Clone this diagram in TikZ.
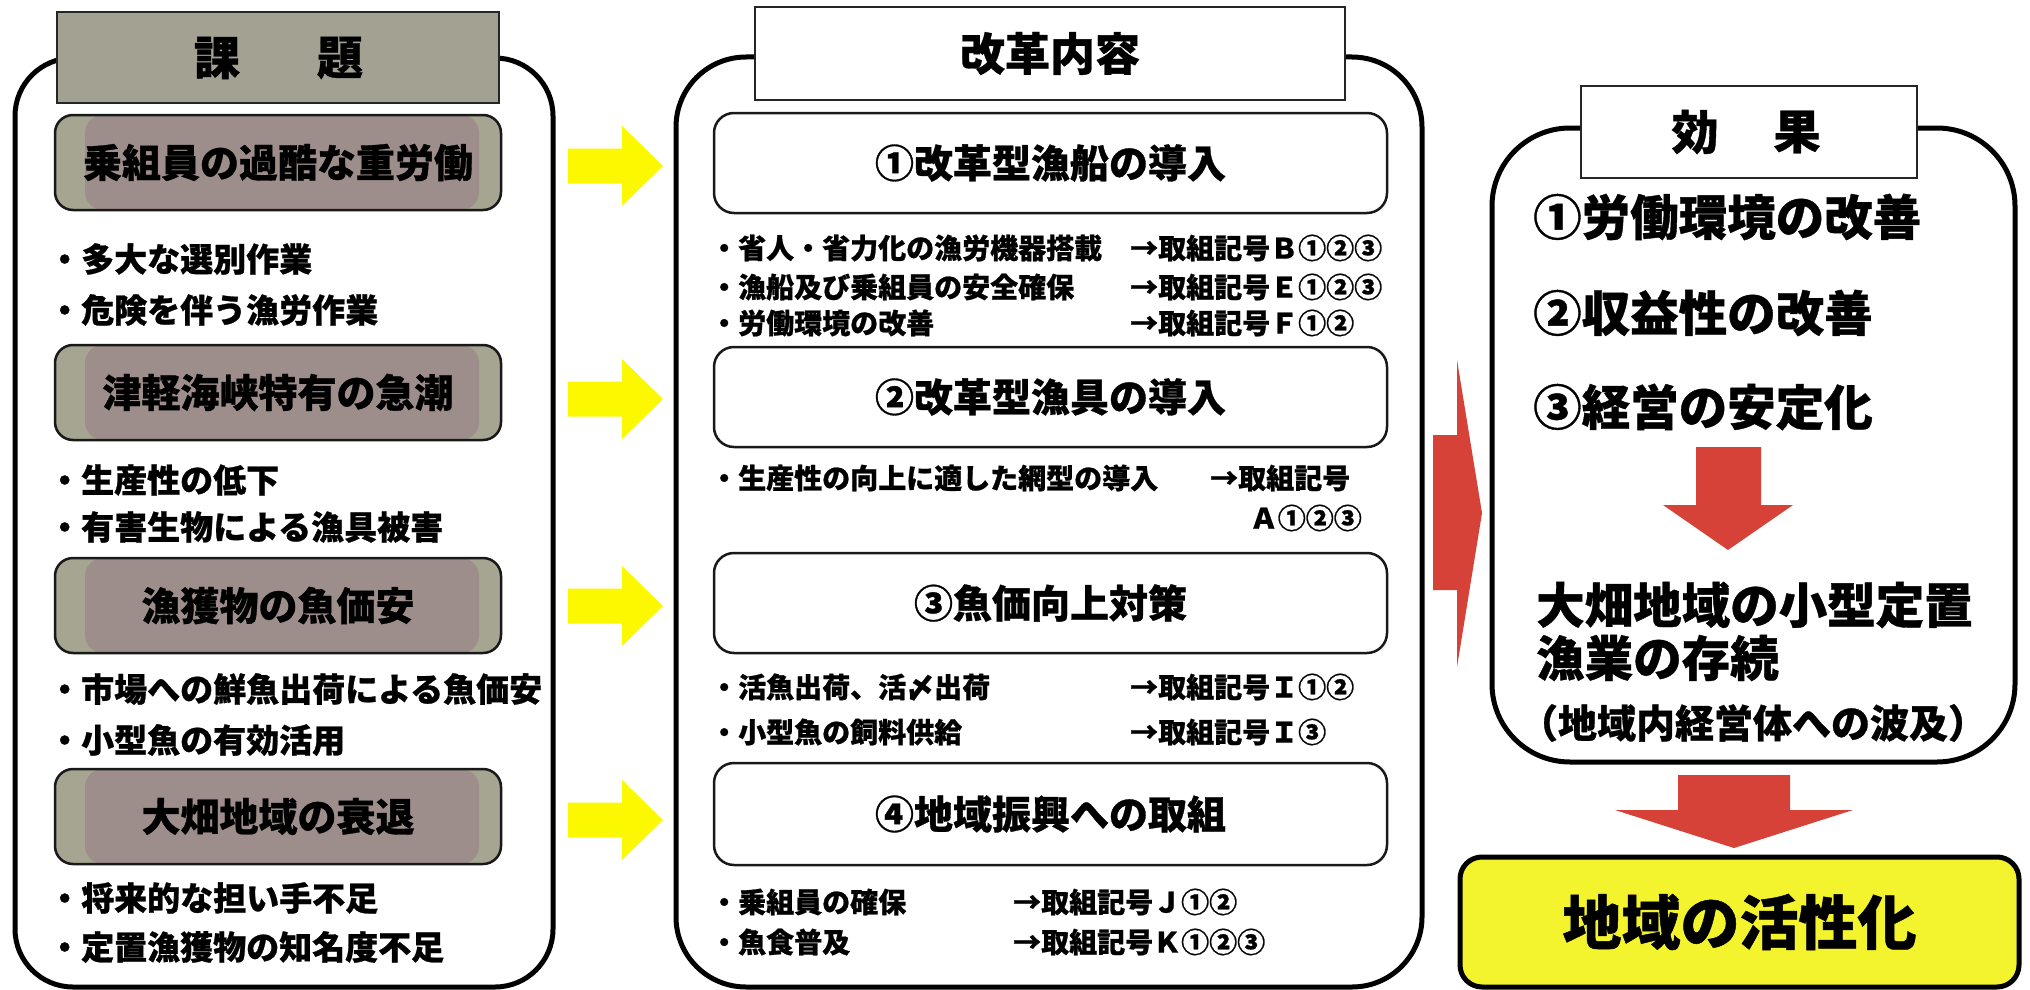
\documentclass[tikz,border=0pt]{standalone}
\usepackage{fontspec}
\setmainfont{Noto Sans CJK JP}[BoldFeatures={FakeBold=0.8}]
\definecolor{olivegray}{RGB}{163,161,146}
\definecolor{mauve}{RGB}{157,142,140}
\definecolor{stripol}{RGB}{166,165,145}
\definecolor{arrowyellow}{RGB}{252,248,0}
\definecolor{boxyellow}{RGB}{244,244,46}
\definecolor{redarrow}{RGB}{214,66,56}
\tikzset{
  bigframe/.style={draw=black, line width=5pt, fill=white},
  titlebox/.style={draw=black!85, line width=2pt, inner sep=0pt, rectangle},
  lsub/.style={draw=black!90, line width=2.5pt, rounded corners=18pt, fill=stripol,
    minimum width=446pt, minimum height=95pt, inner sep=0pt,
    path picture={\fill[mauve] ([xshift=30pt]path picture bounding box.south west) rectangle ([xshift=-22pt]path picture bounding box.north east);},
    font=\fontsize{39}{42}\selectfont\bfseries},
  csub/.style={draw=black!90, line width=2.5pt, rounded corners=20pt, fill=white,
    minimum width=673pt, minimum height=100pt, inner sep=0pt,
    font=\fontsize{39}{42}\selectfont\bfseries},
  ltxt/.style={anchor=west, inner sep=0pt, font=\fontsize{33}{36}\selectfont\bfseries},
  ctxt/.style={anchor=west, inner sep=0pt, font=\fontsize{28}{31}\selectfont\bfseries},
  rtxt/.style={anchor=west, inner sep=0pt, font=\fontsize{48.5}{52}\selectfont\bfseries},
  ttxt/.style={inner sep=0pt, font=\fontsize{46}{50}\selectfont\bfseries},
  yarrowst/.style={fill=arrowyellow},
  rarrowst/.style={fill=redarrow},
}
\begin{document}
\begin{tikzpicture}[x=1pt,y=-1pt]
\useasboundingbox (0,0) rectangle (2030,990);
\fill[white] (0,0) rectangle (2030,990);

% ---------------- left panel ----------------
\draw[bigframe, rounded corners=58pt] (15,58) rectangle (553,987);
\node[titlebox, fill=olivegray, minimum width=442pt, minimum height=91pt] (ltitle) at (278,57.5) {};
\node[ttxt] (lt1) at (217,58) {課};
\node[ttxt] (lt2) at (340,58) {題};

\node[lsub] (l1) at (278,162.5) {乗組員の過酷な重労働};
\node[ltxt] (l1a) at (48,259) {・多大な選別作業};
\node[ltxt] (l1b) at (48,310) {・危険を伴う漁労作業};

\node[lsub] (l2) at (278,392.5) {津軽海峡特有の急潮};
\node[ltxt] (l2a) at (48,480) {・生産性の低下};
\node[ltxt] (l2b) at (48,527) {・有害生物による漁具被害};

\node[lsub] (l3) at (278,605.5) {漁獲物の魚価安};
\node[ltxt] (l3a) at (48,689) {・市場への鮮魚出荷による魚価安};
\node[ltxt] (l3b) at (48,740) {・小型魚の有効活用};

\node[lsub] (l4) at (278,816.5) {大畑地域の衰退};
\node[ltxt] (l4a) at (48,898) {・将来的な担い手不足};
\node[ltxt] (l4b) at (48,947) {・定置漁獲物の知名度不足};

% yellow arrows
\foreach \yy in {166,399,606,820}{
  \fill[yarrowst] (568,\yy-17.5) -- (622,\yy-17.5) -- (622,\yy-40) -- (663,\yy)
    -- (622,\yy+40) -- (622,\yy+17.5) -- (568,\yy+17.5) -- cycle;
}

% ---------------- center panel ----------------
\draw[bigframe, rounded corners=70pt] (676,57) rectangle (1422,987);
\node[titlebox, fill=white, minimum width=590pt, minimum height=93pt,
  font=\fontsize{45}{48}\selectfont\bfseries] (ctitle) at (1050,53.5) {改革内容};

\node[csub] (c1) at (1050.5,163) {①改革型漁船の導入};
\node[ctxt] (c1a) at (710,248) {・省人・省力化の漁労機器搭載};
\node[ctxt] (c1ar) at (1130,248) {→取組記号Ｂ①②③};
\node[ctxt] (c1b) at (710,287) {・漁船及び乗組員の安全確保};
\node[ctxt] (c1br) at (1130,287) {→取組記号Ｅ①②③};
\node[ctxt] (c1c) at (710,323) {・労働環境の改善};
\node[ctxt] (c1cr) at (1130,323) {→取組記号Ｆ①②};

\node[csub] (c2) at (1050.5,397) {②改革型漁具の導入};
\node[ctxt] (c2a) at (710,478) {・生産性の向上に適した網型の導入};
\node[ctxt] (c2ar) at (1210,478) {→取組記号};
\node[ctxt, anchor=east] (c2b) at (1362,518) {Ａ①②③};

\node[csub] (c3) at (1050.5,603) {③魚価向上対策};
\node[ctxt] (c3a) at (710,687) {・活魚出荷、活〆出荷};
\node[ctxt] (c3ar) at (1130,687) {→取組記号Ｉ①②};
\node[ctxt] (c3b) at (710,732) {・小型魚の飼料供給};
\node[ctxt] (c3br) at (1130,732) {→取組記号Ｉ③};

\node[csub, minimum height=102pt] (c4) at (1050.5,814) {④地域振興への取組};
\node[ctxt] (c4a) at (710,902) {・乗組員の確保};
\node[ctxt] (c4ar) at (1013,902) {→取組記号Ｊ①②};
\node[ctxt] (c4b) at (710,942) {・魚食普及};
\node[ctxt] (c4br) at (1013,942) {→取組記号Ｋ①②③};

% big red arrow to the right panel
\fill[rarrowst] (1433,435) -- (1457,435) -- (1457,360) -- (1482,513) -- (1457,667)
  -- (1457,590) -- (1433,590) -- cycle;

% ---------------- right panel ----------------
\draw[bigframe, rounded corners=78pt] (1492,128) rectangle (2015,762);
\node[titlebox, fill=white, minimum width=336pt, minimum height=92pt] (rtitle) at (1749,132) {};
\node[ttxt, font=\fontsize{47}{50}\selectfont\bfseries] (rt1) at (1695,132) {効};
\node[ttxt, font=\fontsize{47}{50}\selectfont\bfseries] (rt2) at (1797,132) {果};

\node[rtxt] (r1) at (1533,217) {①労働環境の改善};
\node[rtxt] (r2) at (1533,313) {②収益性の改善};
\node[rtxt] (r3) at (1533,407) {③経営の安定化};

\fill[rarrowst] (1696,447) -- (1761,447) -- (1761,505) -- (1793,505) -- (1728,550)
  -- (1663,505) -- (1696,505) -- cycle;

\node[rtxt] (r4) at (1536,605) {大畑地域の小型定置};
\node[rtxt] (r5) at (1536,658) {漁業の存続};
\node[inner sep=0pt, font=\fontsize{39}{42}\selectfont\bfseries] (r6) at (1753,723) {（地域内経営体への波及）};

\fill[rarrowst] (1678,775) -- (1790,775) -- (1790,810) -- (1853,810) -- (1734,848)
  -- (1615,810) -- (1678,810) -- cycle;

\node[draw=black, line width=5pt, rounded corners=22pt, fill=boxyellow,
  minimum width=559pt, minimum height=130pt, inner sep=0pt,
  font=\fontsize{59}{62}\selectfont\bfseries] (ybox) at (1739.5,922) {地域の活性化};
\end{tikzpicture}
\end{document}
